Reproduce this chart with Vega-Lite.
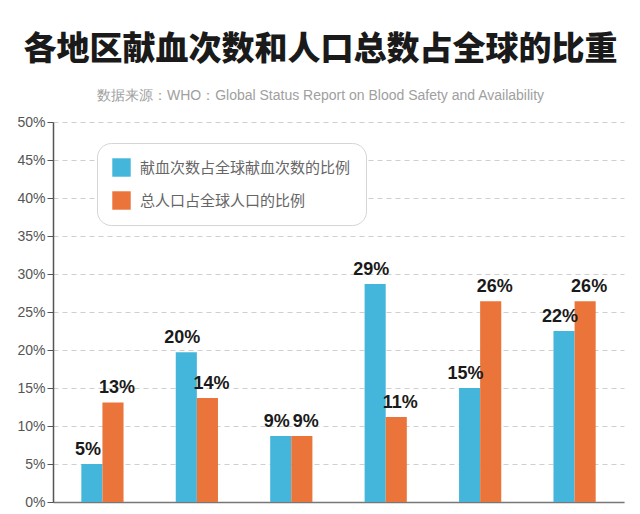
{
  "$schema": "https://vega.github.io/schema/vega-lite/v6.json",
  "width": 571,
  "height": 380,
  "autosize": "none",
  "padding": {"left": 53, "top": 122, "right": 16, "bottom": 12},
  "background": "white",
  "title": {
    "text": "各地区献血次数和人口总数占全球的比重",
    "subtitle": "数据来源：WHO：Global Status Report on Blood Safety and Availability",
    "anchor": "middle",
    "frame": "group",
    "dx": -18,
    "offset": 12,
    "font": "Noto Sans CJK SC",
    "fontSize": 33,
    "fontWeight": 900,
    "color": "#1a1a1a",
    "subtitleFont": "Liberation Sans",
    "subtitleFontSize": 14,
    "subtitleColor": "#a0a0a0",
    "subtitlePadding": 22
  },
  "data": {
    "values": [
      {"region": "非洲区域", "series": "献血次数占全球献血次数的比例", "value": 5.0, "label": "5%"},
      {"region": "非洲区域", "series": "总人口占全球人口的比例", "value": 13.1, "label": "13%"},
      {"region": "美洲区域", "series": "献血次数占全球献血次数的比例", "value": 19.7, "label": "20%"},
      {"region": "美洲区域", "series": "总人口占全球人口的比例", "value": 13.7, "label": "14%"},
      {"region": "东地中海区域", "series": "献血次数占全球献血次数的比例", "value": 8.7, "label": "9%"},
      {"region": "东地中海区域", "series": "总人口占全球人口的比例", "value": 8.7, "label": "9%"},
      {"region": "欧洲区域", "series": "献血次数占全球献血次数的比例", "value": 28.7, "label": "29%"},
      {"region": "欧洲区域", "series": "总人口占全球人口的比例", "value": 11.2, "label": "11%"},
      {"region": "东南亚区域", "series": "献血次数占全球献血次数的比例", "value": 15.0, "label": "15%"},
      {"region": "东南亚区域", "series": "总人口占全球人口的比例", "value": 26.4, "label": "26%"},
      {"region": "西太平洋区域", "series": "献血次数占全球献血次数的比例", "value": 22.5, "label": "22%"},
      {"region": "西太平洋区域", "series": "总人口占全球人口的比例", "value": 26.4, "label": "26%"}
    ]
  },
  "encoding": {
    "x": {
      "field": "region",
      "type": "nominal",
      "sort": null,
      "scale": {"paddingInner": 0.553, "paddingOuter": 0.3},
      "axis": {"labels": false, "ticks": false, "title": null, "domainColor": "#777", "domainWidth": 1.5, "grid": false}
    },
    "xOffset": {
      "field": "series",
      "type": "nominal",
      "sort": ["献血次数占全球献血次数的比例", "总人口占全球人口的比例"],
      "scale": {"paddingInner": 0, "paddingOuter": 0}
    },
    "y": {
      "field": "value",
      "type": "quantitative",
      "scale": {"domain": [0, 50], "nice": false},
      "axis": {
        "title": null,
        "values": [0, 5, 10, 15, 20, 25, 30, 35, 40, 45, 50],
        "labelExpr": "datum.value + '%'",
        "labelFont": "Liberation Sans",
        "labelFontSize": 14,
        "labelColor": "#555",
        "labelPadding": 2,
        "tickSize": 6,
        "tickColor": "#555",
        "domainColor": "#555",
        "domainWidth": 1.5,
        "grid": true,
        "gridColor": "#cfcfcf",
        "gridDash": [5, 4],
        "gridWidth": 1
      }
    }
  },
  "layer": [
    {
      "mark": {"type": "bar"},
      "encoding": {
        "color": {
          "field": "series",
          "type": "nominal",
          "scale": {"domain": ["献血次数占全球献血次数的比例", "总人口占全球人口的比例"], "range": ["#45B6DB", "#EA743A"]},
          "legend": {
            "title": null,
            "orient": "none",
            "legendX": 44,
            "legendY": 21,
            "padding": 15,
            "cornerRadius": 14,
            "strokeColor": "#d5d5d5",
            "fillColor": "white",
            "symbolType": "square",
            "symbolSize": 340,
            "symbolStrokeWidth": 0,
            "labelFont": "Noto Sans CJK SC",
            "labelFontSize": 15,
            "labelColor": "#666",
            "labelOffset": 9,
            "rowPadding": 14,
            "labelLimit": 300
          }
        }
      }
    },
    {
      "transform": [{"filter": "datum.series == '献血次数占全球献血次数的比例'"}],
      "mark": {"type": "text", "baseline": "bottom", "dy": -5, "dx": -4, "font": "Liberation Sans", "fontSize": 18, "fontWeight": "bold", "color": "#1a1a1a"},
      "encoding": {"text": {"field": "label"}}
    },
    {
      "transform": [{"filter": "datum.series == '总人口占全球人口的比例'"}],
      "mark": {"type": "text", "baseline": "bottom", "dy": -5, "dx": 4, "font": "Liberation Sans", "fontSize": 18, "fontWeight": "bold", "color": "#1a1a1a"},
      "encoding": {"text": {"field": "label"}}
    }
  ],
  "config": {
    "view": {"stroke": null}
  }
}
